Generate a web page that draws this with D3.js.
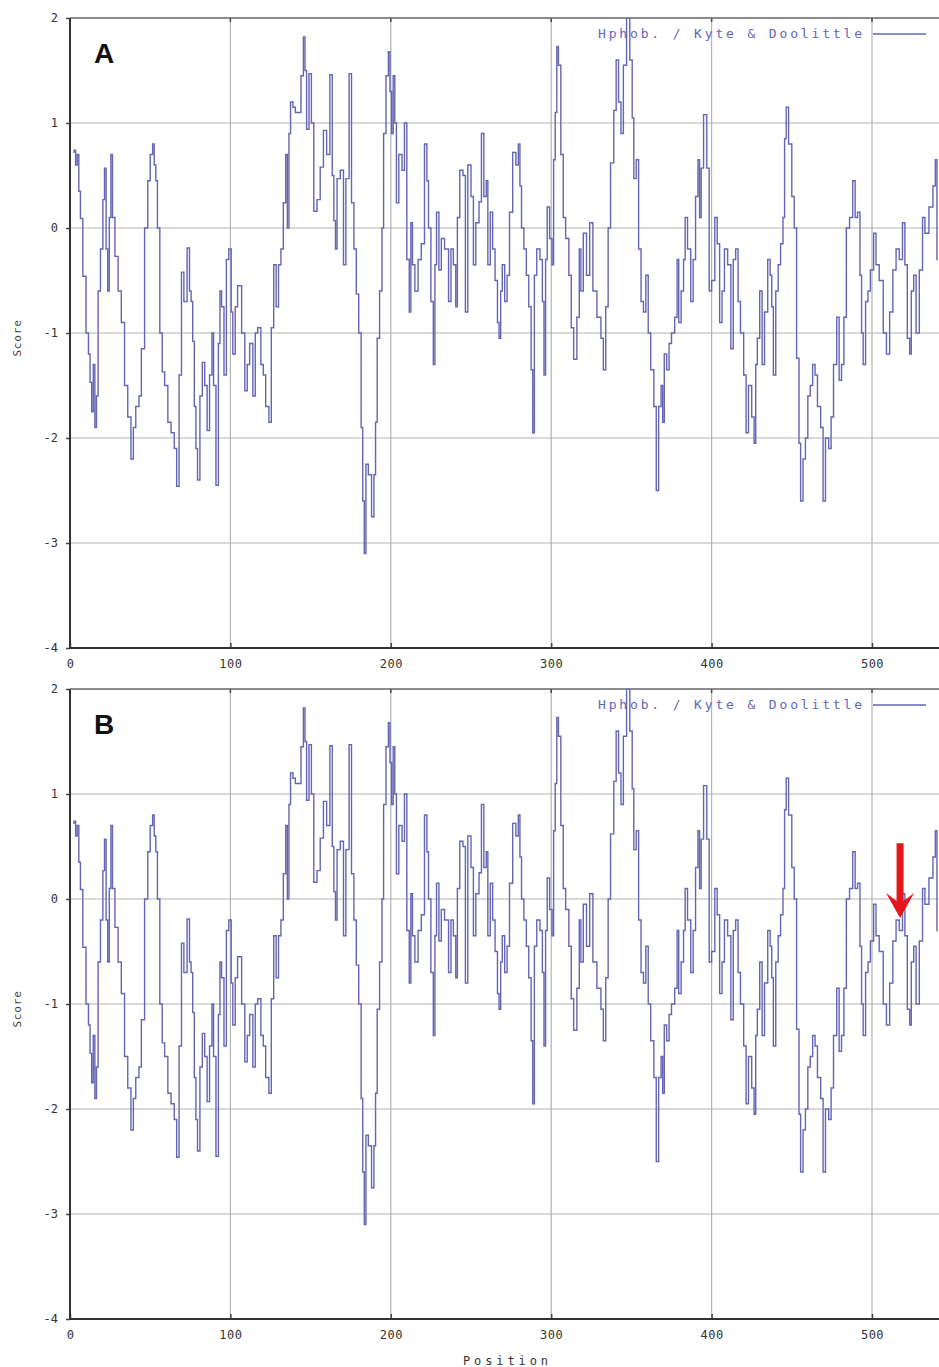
<!DOCTYPE html>
<html>
<head>
<meta charset="utf-8">
<script src="https://cdnjs.cloudflare.com/ajax/libs/d3/7.8.5/d3.min.js"></script>
<style>
    body { margin: 0; background: #fff; }
    svg { display: block; }
</style>
</head>
<body>
<div id="chart"></div>
<script>

// residue positions and Kyte & Doolittle scores
var positions = [
    2, 3, 4, 5, 6, 7, 9, 11, 12, 13,
    14, 15, 16, 17, 18, 20, 21, 22, 23, 24,
    25, 26, 27, 29, 31, 33, 35, 37, 39, 40,
    42, 44, 45, 48, 49, 51, 52, 53, 54, 55,
    57, 58, 60, 62, 64, 66, 67, 69, 70, 72,
    74, 75, 76, 77, 78, 79, 80, 82, 83, 85,
    86, 88, 89, 90, 92, 93, 94, 95, 97, 98,
    100, 101, 102, 104, 105, 106, 108, 110, 111, 113,
    115, 116, 118, 120, 121, 123, 125, 126, 128, 129,
    131, 132, 134, 135, 136, 137, 138, 140, 141, 143,
    145, 146, 147, 148, 150, 151, 153, 155, 157, 159,
    161, 163, 164, 165, 166, 167, 170, 171, 173, 175,
    176, 178, 179, 181, 182, 183, 184, 185, 187, 189,
    190, 191, 192, 194, 195, 196, 198, 199, 200, 201,
    202, 203, 204, 206, 208, 209, 211, 212, 213, 214,
    216, 218, 220, 222, 223, 224, 226, 227, 228, 229,
    231, 232, 235, 237, 238, 240, 241, 242, 244, 246,
    247, 249, 251, 252, 254, 256, 257, 259, 260, 261,
    263, 264, 266, 267, 268, 269, 270, 272, 273, 275,
    277, 279, 280, 281, 282, 284, 285, 287, 288, 289,
    290, 292, 294, 295, 296, 297, 298, 300, 301, 302,
    303, 304, 305, 307, 308, 310, 312, 313, 315, 317,
    318, 319, 321, 323, 325, 327, 330, 332, 333, 335,
    336, 338, 340, 341, 343, 344, 346, 348, 350, 351,
    352, 354, 355, 357, 358, 360, 361, 363, 365, 366,
    368, 369, 370, 371, 373, 374, 376, 378, 379, 380,
    382, 383, 384, 386, 388, 389, 391, 392, 393, 394,
    396, 398, 399, 401, 403, 404, 406, 407, 409, 411,
    413, 414, 416, 417, 419, 421, 422, 424, 426, 427,
    428, 429, 431, 432, 434, 436, 437, 438, 439, 441,
    442, 444, 445, 446, 447, 449, 451, 452, 454, 455,
    456, 458, 459, 461, 462, 464, 465, 467, 469, 470,
    472, 474, 475, 477, 479, 480, 482, 483, 485, 487,
    489, 490, 492, 493, 494, 495, 497, 498, 500, 502,
    503, 506, 508, 510, 512, 514, 516, 518, 520, 521,
    523, 524, 525, 527, 528, 531, 532, 534, 537, 539,
    540, 541
];

var scores = [
    0.72, 0.74, 0.6, 0.7, 0.35, 0.09, -0.46, -1.0, -1.2, -1.47,
    -1.75, -1.3, -1.9, -1.6, -0.6, -0.2, 0.27, 0.57, -0.2, -0.6,
    0.1, 0.7, 0.1, -0.27, -0.6, -0.9, -1.5, -1.8, -2.2, -1.9,
    -1.7, -1.6, -1.15, 0.0, 0.45, 0.7, 0.8, 0.6, 0.45, 0.0,
    -1.0, -1.37, -1.5, -1.85, -1.95, -2.1, -2.46, -1.4, -0.42, -0.7,
    -0.19, -0.6, -0.7, -1.08, -1.7, -2.1, -2.4, -1.6, -1.28, -1.5,
    -1.93, -1.4, -1.0, -1.5, -2.45, -1.1, -0.6, -0.75, -1.4, -0.3,
    -0.2, -0.8, -1.2, -0.75, -0.55, -0.55, -1.0, -1.55, -1.3, -1.1,
    -1.6, -1.0, -0.95, -1.3, -1.4, -1.7, -1.85, -0.95, -0.35, -0.75,
    -0.35, -0.2, 0.24, 0.7, 0.0, 0.9, 1.2, 1.15, 1.1, 1.1,
    1.45, 1.82, 1.5, 0.94, 1.47, 1.0, 0.16, 0.27, 0.58, 0.93,
    0.7, 1.46, 0.5, 0.07, -0.2, 0.47, 0.55, -0.35, 0.47, 1.47,
    0.24, -0.2, -0.63, -1.0, -1.9, -2.6, -3.1, -2.25, -2.35, -2.75,
    -2.35, -1.85, -1.05, -0.6, 0.0, 0.9, 1.45, 1.68, 1.3, 0.9,
    1.45, 1.0, 0.24, 0.7, 0.55, 1.0, -0.3, -0.8, 0.05, -0.35,
    -0.6, -0.3, -0.15, 0.8, 0.45, 0.0, -0.7, -1.3, -0.35, 0.15,
    -0.4, -0.1, -0.2, -0.7, -0.2, -0.35, -0.75, 0.1, 0.55, 0.5,
    -0.8, 0.6, 0.3, -0.35, 0.05, 0.25, 0.9, 0.3, 0.45, -0.35,
    0.15, -0.2, -0.5, -0.9, -1.05, -0.6, -0.35, -0.7, -0.45, 0.15,
    0.72, 0.6, 0.8, 0.4, 0.0, -0.2, -0.45, -0.75, -1.35, -1.95,
    -0.45, -0.2, -0.3, -0.7, -1.4, -0.3, 0.2, -0.1, -0.35, 0.65,
    1.1, 1.73, 1.55, 0.7, 0.1, -0.1, -0.45, -0.95, -1.25, -0.85,
    -0.2, -0.6, -0.05, -0.45, 0.05, -0.6, -0.85, -1.05, -1.35, -0.75,
    0.0, 0.62, 1.12, 1.6, 1.2, 0.9, 1.55, 2.0, 1.6, 1.05,
    0.47, 0.65, -0.2, -0.7, -0.8, -0.45, -1.0, -1.35, -1.7, -2.5,
    -1.7, -1.5, -1.85, -1.2, -1.35, -1.1, -1.0, -0.85, -0.3, -0.9,
    -0.6, -0.3, 0.1, -0.2, -0.7, -0.3, 0.3, 0.65, 0.1, 0.57,
    1.08, 0.57, -0.6, -0.5, 0.1, -0.15, -0.9, -0.6, -0.2, -0.35,
    -1.15, -0.3, -0.2, -0.7, -1.0, -1.4, -1.95, -1.5, -1.8, -2.05,
    -1.3, -1.05, -0.6, -1.3, -0.8, -0.3, -0.45, -0.75, -1.4, -0.6,
    -0.35, -0.15, 0.1, 0.85, 1.15, 0.8, 0.3, 0.0, -1.24, -2.05,
    -2.6, -2.2, -2.0, -1.6, -1.5, -1.3, -1.4, -1.7, -1.9, -2.6,
    -2.0, -2.1, -1.8, -1.3, -0.85, -1.45, -1.3, -0.85, 0.0, 0.1,
    0.45, 0.1, 0.15, -0.45, -1.0, -1.3, -0.7, -0.6, -0.4, -0.05,
    -0.35, -0.5, -1.0, -1.2, -0.8, -0.4, -0.2, -0.3, 0.05, -0.35,
    -1.05, -1.2, -0.6, -0.45, -1.0, -0.4, 0.1, -0.05, 0.2, 0.4,
    0.65, -0.3
];

var yTicks = [2, 1, 0, -1, -2, -3, -4];
var xTicks = [0, 100, 200, 300, 400, 500];
var panelLabels = ["A", "B"];
var legendLabel = "Hphob. / Kyte & Doolittle";
var arrowPosition = 517.5;      // marked residue in panel B
var arrowScores = [0.53, -0.18]; // arrow tail / tip

var data = positions.map(function(p, i) { return { pos: p, score: scores[i] }; });

var W = 939, H = 1367;
var lineColor = "#6565b5";
var monoFont = "'DejaVu Sans Mono', 'Liberation Mono', monospace";

var svg = d3.select("#chart").append("svg")
    .attr("width", W)
    .attr("height", H);

drawPanel(18, panelLabels[0], 0, false);
drawPanel(689, panelLabels[1], 1, true);

function drawPanel(top, label, idx, isLast) {

    var plotH = 630;
    var left = 70;

    var xScale = d3.scaleLinear().domain([0, 500]).range([left, 872]);
    var yScale = d3.scaleLinear().domain([-4, 2]).range([top + plotH, top]);

    var g = svg.append("g").attr("class", "panel");

    // clip so the trace stops at the page edge
    g.append("clipPath").attr("id", "clip" + idx)
        .append("rect")
        .attr("x", left).attr("y", top)
        .attr("width", W - left).attr("height", plotH);

    // ----- grid -----
    g.selectAll(".hgrid")
        .data(yTicks.filter(function(d) { return d > -4 && d < 2; }))
        .enter().append("line")
        .attr("x1", left).attr("x2", W)
        .attr("y1", function(d) { return yScale(d); })
        .attr("y2", function(d) { return yScale(d); })
        .attr("stroke", "#b3b3b3")
        .attr("stroke-width", 1.2);

    g.selectAll(".vgrid")
        .data(xTicks.filter(function(d) { return d > 0; }))
        .enter().append("line")
        .attr("x1", function(d) { return xScale(d); })
        .attr("x2", function(d) { return xScale(d); })
        .attr("y1", top).attr("y2", top + plotH)
        .attr("stroke", "#b3b3b3")
        .attr("stroke-width", 1.2);

    // ----- axes -----
    var yAxis = d3.axisLeft(yScale).tickValues(yTicks).tickSize(4).tickPadding(8)
        .tickFormat(function(d) { return String(d); });
    var ya = g.append("g")
        .attr("transform", "translate(" + left + ",0)")
        .call(yAxis);
    ya.select(".domain").remove();
    ya.selectAll("line").attr("stroke", "#444").attr("stroke-width", 1.5);
    ya.selectAll("text")
        .style("font-family", monoFont)
        .style("font-size", "12px")
        .attr("fill", "#333");

    var xAxis = d3.axisBottom(xScale).tickValues(xTicks).tickSize(-5).tickPadding(11)
        .tickFormat(function(d) { return String(d); });
    var xa = g.append("g")
        .attr("transform", "translate(0," + (top + plotH) + ")")
        .call(xAxis);
    xa.select(".domain").remove();
    xa.selectAll("line").attr("stroke", "#444").attr("stroke-width", 1.5);
    xa.selectAll("text")
        .style("font-family", monoFont)
        .style("font-size", "12px")
        .attr("letter-spacing", "0.5px")
        .attr("fill", "#333");

    // small ticks on the top border
    g.selectAll(".ttick")
        .data(xTicks.filter(function(d) { return d > 0; }))
        .enter().append("line")
        .attr("x1", function(d) { return xScale(d); })
        .attr("x2", function(d) { return xScale(d); })
        .attr("y1", top).attr("y2", top + 4)
        .attr("stroke", "#444").attr("stroke-width", 1.5);

    // frame (right side is off the page)
    g.append("line").attr("x1", left).attr("x2", W).attr("y1", top).attr("y2", top)
        .attr("stroke", "#666").attr("stroke-width", 1.5);
    g.append("line").attr("x1", left).attr("x2", left).attr("y1", top).attr("y2", top + plotH)
        .attr("stroke", "#333").attr("stroke-width", 2);
    g.append("line").attr("x1", left - 1).attr("x2", W).attr("y1", top + plotH).attr("y2", top + plotH)
        .attr("stroke", "#333").attr("stroke-width", 2);

    // ----- trace -----
    var line = d3.line()
        .x(function(d) { return xScale(d.pos); })
        .y(function(d) { return yScale(d.score); })
        .curve(d3.curveStep);

    g.append("path")
        .datum(data)
        .attr("clip-path", "url(#clip" + idx + ")")
        .attr("fill", "none")
        .attr("stroke", lineColor)
        .attr("stroke-width", 1.4)
        .attr("stroke-linejoin", "miter")
        .attr("d", line);

    // ----- legend -----
    g.append("text")
        .attr("x", 598).attr("y", top + 20)
        .attr("textLength", 264).attr("lengthAdjust", "spacing")
        .style("font-family", monoFont)
        .style("font-size", "13px")
        .attr("fill", lineColor)
        .text(legendLabel);
    g.append("line")
        .attr("x1", 873).attr("x2", 926)
        .attr("y1", top + 16).attr("y2", top + 16)
        .attr("stroke", lineColor).attr("stroke-width", 1.6);

    // ----- titles -----
    g.append("text")
        .attr("transform", "translate(21," + (top + 320) + ") rotate(-90)")
        .attr("text-anchor", "middle")
        .style("font-family", monoFont)
        .style("font-size", "11px")
        .attr("letter-spacing", "0.8px")
        .attr("fill", "#444")
        .text("Score");

    if (isLast) {
        g.append("text")
            .attr("x", 463).attr("y", top + plotH + 46)
            .attr("textLength", 85).attr("lengthAdjust", "spacing")
            .style("font-family", monoFont)
            .style("font-size", "12px")
            .attr("fill", "#333")
            .text("Position");
    }

    // panel letter
    g.append("text")
        .attr("x", 94).attr("y", top + 45)
        .style("font-family", "'Liberation Sans', Arial, sans-serif")
        .style("font-weight", "bold")
        .style("font-size", "28px")
        .attr("fill", "#111")
        .text(label);

    // ----- red arrow (panel B only) -----
    if (isLast) {
        var ax = xScale(arrowPosition);
        var yTail = yScale(arrowScores[0]);
        var yTip = yScale(arrowScores[1]);
        var headLen = 25, headW = 14, shaftW = 3.5;
        var p = d3.path();
        p.moveTo(ax - shaftW, yTail);
        p.lineTo(ax + shaftW, yTail);
        p.lineTo(ax + shaftW, yTip - headLen + 8);
        p.lineTo(ax + headW, yTip - headLen);
        p.lineTo(ax, yTip);
        p.lineTo(ax - headW, yTip - headLen);
        p.lineTo(ax - shaftW, yTip - headLen + 8);
        p.closePath();
        g.append("path")
            .attr("d", p.toString())
            .attr("fill", "#e3161c");
    }
}

</script>
</body>
</html>
